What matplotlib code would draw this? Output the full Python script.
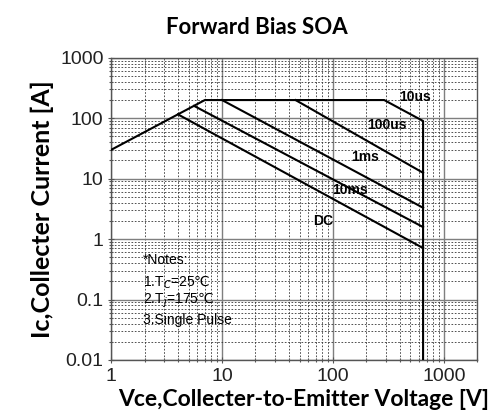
import matplotlib
matplotlib.use("Agg")
import matplotlib.pyplot as plt
from matplotlib.ticker import FixedLocator, FixedFormatter, LogLocator, NullFormatter

plt.rcParams["font.family"] = ["Liberation Sans", "DejaVu Sans"]

# boundary curves of the SOA (Vce [V], Ic [A])
vce_10us = [1, 7, 290, 650, 650]
ic_10us = [30, 200, 200, 90, 0.01]
vce_100us = [46, 650]
ic_100us = [200, 12.5]
vce_1ms = [10, 650]
ic_1ms = [200, 3.3]
vce_10ms = [5.6, 650]
ic_10ms = [160, 1.58]
vce_dc = [4.0, 650]
ic_dc = [116, 0.71]

curve_labels = ["10us", "100us", "1ms", "10ms", "DC"]
label_x = [550, 308, 194, 142, 81]
label_y = [225, 78, 23, 6.5, 2.0]

notes = ["*Notes:", "1.T$_C$=25$\\mathrm{\u2103}$", "2.T$_j$=175$\\mathrm{\u2103}$", "3.Single Pulse"]
notes_y = [0.45, 0.195, 0.098, 0.046]

y_ticks = [0.01, 0.1, 1, 10, 100, 1000]
y_ticklabels = ["0.01", "0.1", "1", "10", "100", "1000"]
x_ticks = [1, 10, 100, 1000]
x_ticklabels = ["1", "10", "100", "1000"]

fig = plt.figure(figsize=(4.94, 4.19), dpi=100)
ax = fig.add_axes([0.225, 0.141, 0.741, 0.721])
ax.set_xscale("log")
ax.set_yscale("log")
ax.set_xlim(1, 2000)
ax.set_ylim(0.01, 1000)

for vx, iy in [(vce_10us, ic_10us), (vce_100us, ic_100us), (vce_1ms, ic_1ms),
               (vce_10ms, ic_10ms), (vce_dc, ic_dc)]:
    ax.plot(vx, iy, color="black", lw=1.5, zorder=3)

for t, x, y in zip(curve_labels, label_x, label_y):
    ax.text(x, y, t, ha="center", va="center", fontsize=10, fontweight="bold", zorder=4)

for t, y in zip(notes, notes_y):
    ax.text(1.95, y, t, ha="left", va="center", fontsize=10, zorder=4,
            math_fontfamily="dejavusans")

ax.xaxis.set_major_locator(FixedLocator(x_ticks))
ax.xaxis.set_major_formatter(FixedFormatter(x_ticklabels))
ax.yaxis.set_major_locator(FixedLocator(y_ticks))
ax.yaxis.set_major_formatter(FixedFormatter(y_ticklabels))
ax.xaxis.set_minor_locator(LogLocator(base=10, subs=range(2, 10), numticks=20))
ax.yaxis.set_minor_locator(LogLocator(base=10, subs=range(2, 10), numticks=20))
ax.xaxis.set_minor_formatter(NullFormatter())
ax.yaxis.set_minor_formatter(NullFormatter())

ax.grid(which="major", color="#7f7f7f", lw=1.0, ls="-")
ax.grid(which="minor", color="#333333", lw=0.6, ls=(0, (2, 2)))
ax.tick_params(which="both", direction="inout", length=4, width=0.8, colors="#555555",
               labelcolor="#222222", labelsize=14)
ax.tick_params(which="minor", length=3)
for s in ax.spines.values():
    s.set_color("#555555")
    s.set_linewidth(1.0)

fig.text(0.52, 0.935, "Forward Bias SOA", ha="center", va="center",
         fontsize=16, fontweight="bold", family="Lato")
ax.set_xlabel("Vce,Collecter-to-Emitter Voltage [V]", fontsize=16.5, fontweight="bold",
              family="Lato")
ax.xaxis.set_label_coords(0.527, -0.095)
ax.set_ylabel("Ic,Collecter Current [A]", fontsize=18, fontweight="bold",
              family="Lato", labelpad=4)

fig.savefig("out.png", dpi=100)
